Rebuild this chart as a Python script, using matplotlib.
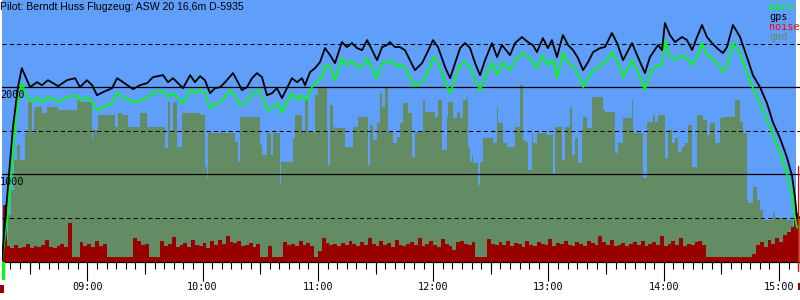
import matplotlib
matplotlib.use("Agg")
import matplotlib.pyplot as plt
import numpy as np
from matplotlib.patches import Rectangle
from matplotlib.transforms import offset_copy, blended_transform_factory
from matplotlib.ticker import MultipleLocator

# ---------------- data (time in minutes since midnight, altitude in m) -------------
title = "Pilot: Berndt Huss Flugzeug: ASW 20 16,6m D-5935"
legend_labels = ["baro", "gps", "noise", "gnd"]
hour_ticks = [540, 600, 660, 720, 780, 840, 900]
hour_labels = ["09:00", "10:00", "11:00", "12:00", "13:00", "14:00", "15:00"]
y_labels = [2000, 1000]
t_start, t_end = 495.6, 910.9
flight_end = 908.8

gps_t = [495.6, 498.1, 501.3, 503.9, 505.9, 510.2, 513.8, 516.4, 519.5, 522.2, 524.8,
         529.4, 533.6, 536.2, 539.8, 542.5, 545.0, 548.2, 552.9, 555.5, 558.6, 563.8,
         567.4, 571.1, 574.2, 579.4, 582.0, 584.6, 589.8, 593.5, 596.0, 598.7, 601.2,
         603.9, 606.5, 609.1, 611.7, 615.8, 618.4, 620.5, 623.1, 625.7, 628.3, 630.9,
         633.5, 636.1, 638.7, 641.3, 643.9, 646.5, 649.1, 651.7, 653.3, 655.9, 658.5,
         661.1, 663.7, 666.3, 668.9, 672.5, 675.1, 677.7, 680.4, 683.0, 685.6, 688.2,
         690.8, 693.4, 696.0, 697.5, 700.1, 702.7, 705.3, 707.9, 710.5, 714.2, 716.8,
         719.9, 722.5, 726.2, 728.8, 731.4, 734.0, 736.6, 739.2, 741.8, 744.4, 747.0,
         750.6, 753.2, 755.8, 760.0, 762.6, 766.2, 769.3, 771.9, 774.0, 777.1, 779.7,
         781.8, 784.4, 787.5, 790.2, 792.8, 795.4, 798.0, 800.6, 803.2, 806.8, 809.4,
         813.0, 815.7, 818.8, 823.5, 826.1, 830.2, 832.8, 837.0, 839.1, 840.6, 843.2,
         845.8, 849.5, 852.1, 854.7, 857.3, 859.9, 862.5, 865.1, 867.7, 870.8, 872.9,
         876.0, 879.7, 883.3, 886.4, 890.1, 893.7, 896.8, 900.5, 904.1, 906.7, 908.3,
         909.3, 910.9]
gps_alt = [12, 701, 1540, 2000, 2218, 2000, 2057, 2023, 2080, 2046, 2011,
           2080, 2103, 2000, 2080, 2023, 1908, 1943, 1989, 2103, 2057, 1977,
           2023, 2046, 2115, 2138, 2057, 2103, 1989, 2138, 2057, 2126, 2080,
           1931, 1989, 2000, 2057, 2161, 2057, 1966, 2000, 2103, 2161, 2115,
           1908, 1931, 1989, 1874, 1989, 2103, 2057, 2103, 2023, 2172, 2218,
           2287, 2448, 2368, 2276, 2517, 2460, 2506, 2448, 2425, 2540, 2425,
           2310, 2460, 2483, 2517, 2460, 2460, 2425, 2310, 2195, 2276, 2391,
           2540, 2460, 2230, 2103, 2276, 2448, 2506, 2448, 2276, 2138, 2310,
           2506, 2345, 2483, 2368, 2506, 2575, 2517, 2483, 2402, 2563, 2448,
           2540, 2345, 2598, 2483, 2425, 2333, 2195, 2287, 2402, 2448, 2460,
           2621, 2506, 2310, 2506, 2368, 2161, 2345, 2483, 2425, 2736, 2598,
           2517, 2575, 2540, 2425, 2575, 2713, 2575, 2506, 2448, 2391, 2460,
           2713, 2575, 2345, 2138, 2000, 1816, 1598, 1414, 1195, 989, 736,
           506, 506]

baro_t = [495.6, 498.7, 500.8, 502.4, 503.9, 506.0, 508.6, 511.2, 513.8, 516.4, 519.0,
          522.2, 524.8, 529.4, 533.6, 536.2, 539.8, 542.5, 545.0, 548.2, 552.9, 555.5,
          558.6, 563.8, 567.4, 571.1, 574.2, 579.4, 582.0, 584.6, 589.8, 593.5, 596.0,
          598.7, 601.2, 603.9, 606.5, 609.1, 611.7, 614.3, 616.9, 619.5, 623.1, 626.2,
          628.8, 631.4, 634.0, 636.6, 639.2, 641.3, 643.9, 646.5, 649.1, 651.7, 654.3,
          656.9, 659.5, 662.1, 663.7, 666.3, 668.9, 672.5, 675.1, 677.7, 680.9, 683.5,
          685.6, 688.2, 690.8, 693.4, 696.0, 698.6, 701.2, 702.7, 705.3, 707.9, 710.5,
          713.1, 715.7, 718.3, 719.9, 722.5, 725.1, 728.8, 731.4, 734.0, 736.6, 739.2,
          741.8, 744.4, 747.0, 750.6, 753.2, 755.8, 760.0, 762.6, 766.2, 769.3, 771.9,
          774.0, 777.1, 779.7, 782.4, 784.4, 787.5, 790.2, 792.8, 795.4, 798.0, 800.6,
          803.2, 806.8, 809.4, 813.0, 815.7, 818.8, 823.5, 826.1, 830.2, 832.8, 837.0,
          839.1, 840.6, 843.2, 845.8, 849.5, 852.1, 854.7, 857.3, 859.9, 862.5, 865.1,
          867.7, 870.8, 873.4, 876.0, 879.7, 883.3, 886.4, 890.1, 893.7, 896.8, 900.5,
          904.1, 906.7, 908.3, 909.3, 910.9]
baro_alt = [12, 552, 1081, 1540, 1851, 2046, 1885, 1828, 1885, 1816, 1885,
            1874, 1828, 1885, 1908, 1851, 1885, 1828, 1736, 1770, 1816, 1931,
            1885, 1828, 1851, 1874, 1943, 1954, 1885, 1931, 1816, 1966, 1931,
            1977, 1931, 1759, 1793, 1828, 1885, 1966, 1908, 1793, 1828, 1943,
            1966, 1874, 1736, 1770, 1816, 1701, 1828, 1931, 1851, 1908, 1851,
            2000, 2057, 2115, 2253, 2230, 2080, 2333, 2253, 2310, 2218, 2253,
            2333, 2218, 2103, 2276, 2287, 2310, 2230, 2264, 2230, 2103, 2011,
            2046, 2103, 2230, 2345, 2287, 2115, 1931, 2103, 2253, 2287, 2230,
            2080, 1966, 2115, 2287, 2138, 2287, 2195, 2310, 2391, 2345, 2287,
            2218, 2368, 2253, 2310, 2103, 2391, 2287, 2230, 2161, 2000, 2103,
            2195, 2241, 2287, 2402, 2310, 2115, 2310, 2195, 1966, 2172, 2253,
            2253, 2540, 2368, 2310, 2368, 2333, 2253, 2345, 2506, 2368, 2333,
            2276, 2172, 2287, 2506, 2391, 2161, 1989, 1816, 1621, 1448, 1253,
            1011, 782, 506, 391, 391]

gnd_t = [496.1, 497.2, 498.7, 500.3, 501.9, 503.4, 505.0, 507.6, 509.1, 511.2, 512.3,
         512.8, 516.4, 519.0, 524.8, 534.6, 536.2, 542.4, 543.0, 545.6, 554.4, 556.0,
         558.1, 561.2, 567.4, 571.1, 580.4, 582.0, 583.0, 584.6, 586.7, 589.3, 598.7,
         601.3, 602.3, 602.8, 616.9, 618.4, 619.5, 629.9, 630.9, 633.5, 635.6, 636.6,
         640.3, 640.8, 647.1, 648.1, 651.7, 653.3, 654.9, 658.5, 660.1, 664.7, 665.3,
         666.3, 667.9, 668.9, 674.1, 678.3, 680.9, 686.1, 687.1, 688.7, 690.8, 692.3,
         693.4, 694.9, 696.5, 699.1, 701.2, 702.7, 704.3, 706.9, 709.0, 710.5, 714.7,
         715.7, 720.9, 722.5, 724.6, 727.2, 727.7, 730.3, 732.4, 734.0, 735.5, 737.6,
         738.1, 739.2, 740.2, 740.7, 743.3, 744.4, 745.9, 751.1, 753.2, 753.7, 756.3,
         758.4, 762.6, 765.2, 766.7, 767.8, 769.3, 771.4, 771.9, 774.0, 779.2, 782.4,
         783.4, 787.0, 788.6, 791.2, 792.2, 793.8, 795.4, 797.4, 798.0, 800.0, 802.7,
         808.4, 809.4, 814.6, 816.2, 818.8, 823.5, 824.0, 829.2, 831.3, 834.4, 835.4,
         837.0, 840.6, 842.2, 844.3, 845.8, 847.4, 849.5, 851.0, 852.6, 854.7, 857.3,
         860.4, 862.5, 864.1, 866.7, 869.3, 870.8, 877.1, 879.7, 881.2, 883.3, 883.8,
         886.4, 888.5, 890.1, 891.6, 896.8, 897.9, 904.1, 907.2, 908.3, 910.9]
gnd_alt = [0, 241, 529, 816, 1161, 1333, 1161, 1471, 1828, 1471, 1736,
           1770, 1701, 1770, 1736, 1851, 1828, 1391, 1506, 1678, 1540, 1701,
           1678, 1540, 1701, 1540, 1299, 1828, 1506, 1828, 1310, 1701, 1678,
           1080, 954, 1471, 1368, 1138, 1655, 1333, 1218, 1471, 1218, 1471,
           874, 1138, 1414, 1678, 1483, 1851, 1483, 1908, 2000, 1483, 1103,
           1793, 1540, 1529, 1310, 1540, 1655, 1103, 1563, 1391, 1586, 1931,
           1770, 1989, 1483, 1356, 1425, 1586, 1816, 1701, 1195, 1483, 1851,
           1713, 1655, 1851, 1276, 1655, 1828, 1644, 1713, 1644, 1851, 1885,
           1310, 1138, 1218, 1126, 874, 1138, 1414, 1356, 1770, 1586, 1356,
           1310, 1540, 2023, 1391, 1368, 1046, 1471, 1356, 1471, 1448, 989,
           1540, 1161, 1540, 1770, 1218, 1414, 1126, 1506, 1655, 1529, 1885,
           1736, 1713, 1241, 1356, 1644, 1851, 1471, 954, 1598, 1678, 1598,
           1678, 1184, 1506, 1356, 1414, 1253, 1310, 1356, 1563, 1080, 1678,
           1621, 1448, 1586, 1356, 1644, 1655, 1851, 1598, 1471, 701, 667,
           851, 701, 586, 471, 552, 494, 471, 391, 517, 517]

noise_t0, noise_step = 496, 2
noise = [650, 180, 160, 190, 150, 170, 200, 160, 180, 170,
         190, 250, 170, 160, 180, 200, 170, 440, 46, 46,
         220, 180, 200, 170, 230, 180, 200, 46, 46, 46,
         46, 46, 46, 46, 270, 240, 190, 200, 46, 46,
         46, 240, 180, 200, 280, 170, 190, 210, 170, 250,
         190, 180, 210, 160, 240, 190, 250, 200, 290, 220,
         210, 240, 180, 190, 210, 170, 200, 46, 46, 180,
         46, 46, 46, 220, 190, 200, 180, 230, 190, 210,
         180, 46, 120, 270, 210, 190, 200, 180, 210, 190,
         240, 200, 180, 220, 190, 270, 200, 180, 240, 190,
         210, 170, 250, 190, 180, 200, 220, 190, 270, 180,
         200, 240, 190, 170, 260, 200, 180, 130, 220, 240,
         200, 190, 220, 46, 46, 46, 260, 200, 190, 220,
         190, 240, 180, 210, 200, 170, 230, 190, 180, 220,
         200, 190, 260, 180, 210, 200, 230, 190, 180, 220,
         200, 180, 240, 210, 190, 290, 220, 190, 250, 180,
         190, 210, 180, 200, 220, 190, 230, 180, 200, 220,
         190, 290, 180, 200, 240, 190, 270, 180, 200, 190,
         220, 240, 190, 46, 46, 46, 46, 46, 46, 46,
         46, 46, 46, 46, 46, 90, 190, 220, 170, 250,
         200, 270, 220, 300, 340, 400, 560]
landing_t, landing_top = 910.0, 1100

# ---------------- style ----------------
BLUE = "#5f9ff9"
GND = "#648c64"
NOISE = "#990000"
BARO = "#00ff00"
MONO = "DejaVu Sans Mono"

fig = plt.figure(figsize=(8, 3), dpi=100)
fig.patch.set_facecolor("white")
ax = fig.add_axes([2 / 800, 1 - 261.5 / 300, 798 / 800, 261.5 / 300])
ax.set_facecolor("white")
ax.set_xlim(t_start, t_end)
ax.set_ylim(0, 3000)

ax.axvspan(t_start, flight_end, color=BLUE, lw=0, zorder=0)

gt = np.array(gnd_t)
ga = np.array(gnd_alt)
ax.fill_between(gt, ga, step="post", color=GND, lw=0, zorder=1)

nt = noise_t0 + noise_step * np.arange(len(noise) + 1)
nv = np.array(noise + [noise[-1]])
ax.fill_between(nt, nv, step="post", color=NOISE, lw=0, zorder=2)

for lvl in (1000, 2000):
    ax.axhline(lvl, color="black", lw=0.9, zorder=3)
for lvl in (500, 1500, 2500):
    ax.axhline(lvl, color="black", lw=0.75, ls=(0, (4, 3)), zorder=3)

ax.plot(baro_t, baro_alt, color=BARO, lw=1.3, zorder=4)
ax.plot(gps_t, gps_alt, color="black", lw=1.3, zorder=5)

# landing marker
ax.plot([landing_t, landing_t], [landing_top, -110], color="#ff0000", lw=0.9,
        zorder=6, clip_on=False)

# axes / ticks
for s in ("left", "right", "top"):
    ax.spines[s].set_visible(False)
ax.spines["bottom"].set_linewidth(0.9)
ax.set_yticks([])
ax.set_xticks(hour_ticks)
ax.set_xticklabels(hour_labels, family=MONO, fontsize=7.3)
ax.xaxis.set_minor_locator(MultipleLocator(5))
ax.tick_params(axis="x", which="major", length=13.7, width=0.8, pad=1.2)
ax.tick_params(axis="x", which="minor", length=5.0, width=0.8)

sec = ax.secondary_xaxis("bottom")
sec.set_xticks([h + 30 for h in [480] + hour_ticks])
sec.set_xticklabels([])
sec.tick_params(axis="x", length=8.6, width=0.8)
sec.spines["bottom"].set_visible(False)

# y labels
trans = blended_transform_factory(ax.transAxes, ax.transData)
trans = offset_copy(trans, fig=fig, x=-2, y=-3, units="dots")
for v in y_labels:
    ax.text(0, v, str(v), transform=trans, ha="left", va="top",
            family=MONO, fontsize=7.3, zorder=7)

# title
fig.text(0.0, 1 - 1.5 / 300, title, ha="left", va="top",
         family="Liberation Sans", fontsize=7.6)

# legend
leg_colors = [BARO, "black", "#ff0000", GND]
for i, (lab, c) in enumerate(zip(legend_labels, leg_colors)):
    fig.text(769 / 800, 1 - (7 + 10 * i) / 300, lab, ha="left", va="center",
             family=MONO, fontsize=7.3, color=c)

# start / end markers below axis
fig.add_artist(Rectangle((2 / 800, 1 - 280 / 300), 3 / 800, 18 / 300,
                         transform=fig.transFigure, color=BARO, lw=0))
fig.add_artist(Rectangle((0, 1 - 293 / 300), 4 / 800, 8 / 300,
                         transform=fig.transFigure, color=NOISE, lw=0))
fig.add_artist(Rectangle((798 / 800, 1 - 290 / 300), 2 / 800, 7 / 300,
                         transform=fig.transFigure, color=NOISE, lw=0))

fig.savefig("out.png", dpi=100)
